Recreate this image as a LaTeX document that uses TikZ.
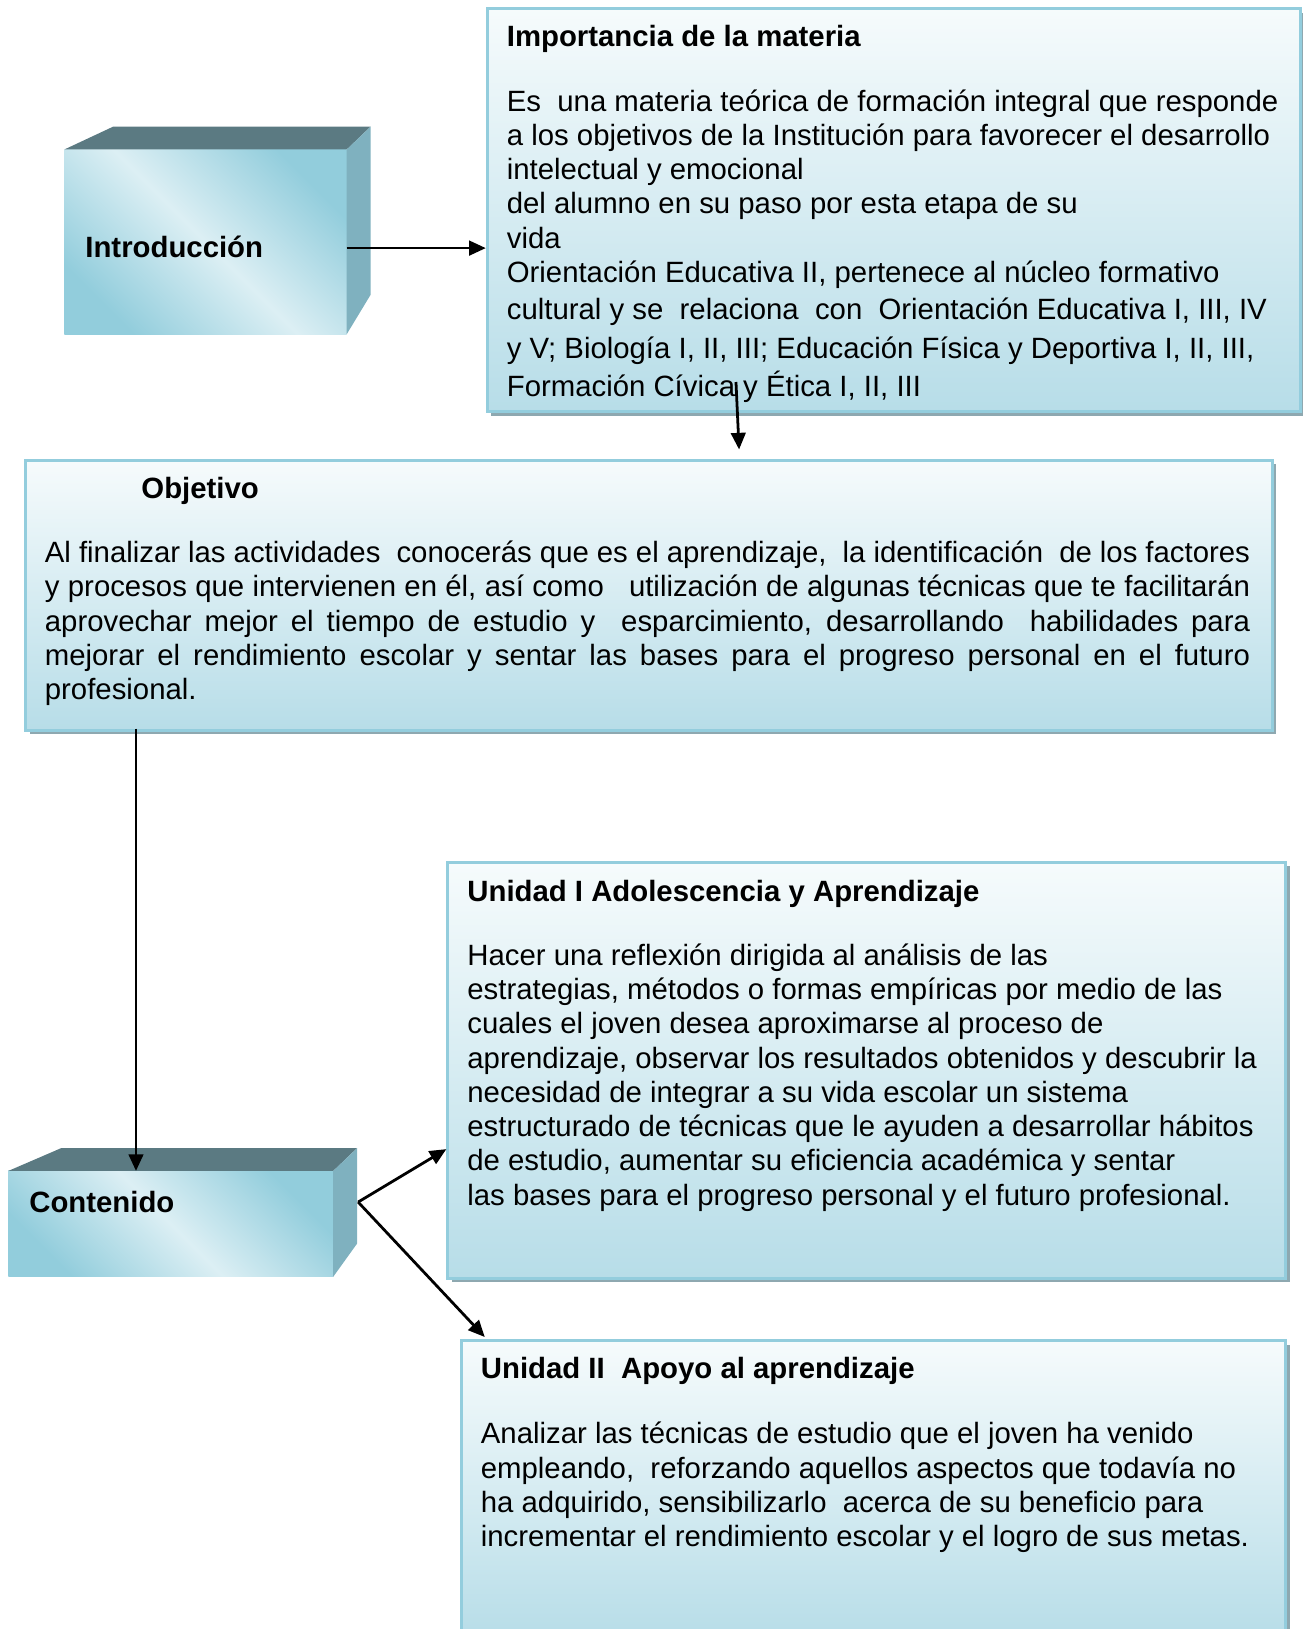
\documentclass[tikz,border=0pt]{standalone}
\usepackage{fontspec}
\setmainfont{Liberation Sans}
\usetikzlibrary{arrows.meta,shadows}
\newlength\px \setlength\px{0.75pt}
\definecolor{bordc}{HTML}{93CDDD}
\definecolor{topc}{HTML}{F6FBFC}
\definecolor{botc}{HTML}{B7DDE8}
\definecolor{shadc}{HTML}{8EA8B0}
\definecolor{cubeblue}{HTML}{92CDDC}
\definecolor{cubelight}{HTML}{DCEFF4}
\definecolor{cubetop}{HTML}{5B7A82}
\definecolor{cubeside}{HTML}{7FB1BF}
\tikzset{
 infobox/.style={draw=bordc, line width=2.2pt, rectangle, inner sep=0pt, anchor=north west,
   top color=topc, bottom color=botc,
   drop shadow={shadow xshift=3pt, shadow yshift=-3pt, fill=shadc, opacity=1}},
 conn/.style={line width=2pt, -{Triangle[length=12pt,width=10.5pt]}},
 body/.style={anchor=base west, inner sep=0pt, font=\fontsize{21.2}{24.75}\selectfont},
 ttl/.style={anchor=base west, inner sep=0pt, font=\fontsize{21.2}{24.75}\selectfont\bfseries},
 cubefront/.style={top color=cubeblue, bottom color=cubeblue, middle color=cubelight, shading angle=-45},
}
\begin{document}
\begin{tikzpicture}[x=0.75pt,y=-0.75pt]
\useasboundingbox (0,0) rectangle (1254.4,1569.3);
% --- 3D box: Introduccion
\shade[cubefront] (62,144) rectangle (334,322);
\fill[cubetop] (62,144) -- (109,122) -- (357,122) -- (334,144) -- cycle;
\fill[cubeside] (334,144) -- (357,122) -- (357,284) -- (334,322) -- cycle;
\node[ttl] (intro) at (82,248) {Introducción};
% --- 3D box: Contenido
\shade[cubefront] (8,1128) rectangle (321,1230);
\fill[cubetop] (8,1128) -- (59,1106) -- (344,1106) -- (321,1128) -- cycle;
\fill[cubeside] (321,1128) -- (344,1106) -- (344,1198) -- (321,1230) -- cycle;
\node[ttl] (cont) at (28,1168) {Contenido};
% --- boxes
\node[infobox, minimum width=783\px, minimum height=388\px] (imp) at (468,7) {};
\node[infobox, minimum width=1201\px, minimum height=260\px] (obj) at (23,442) {};
\node[infobox, minimum width=807\px, minimum height=401\px] (u1) at (430,829) {};
\node[infobox, minimum width=794\px, minimum height=287\px] (u2) at (443,1290) {};
% --- texts
\node[ttl] (impt) at (488,45) {Importancia de la materia};
\node[body] (impb) at (488,107) {\parbox[t]{770\px}{Es\ \ una materia teórica de formación integral que responde\\
a los objetivos de la Institución para favorecer el desarrollo\\
intelectual y emocional\\
del alumno en su paso por esta etapa de su\\
vida\\
Orientación Educativa II, pertenece al núcleo formativo\\[2.25pt]
cultural y se\ \ relaciona\ \ con\ \ Orientación Educativa I, III, IV\\[3pt]
y V; Biología I, II, III; Educación Física y Deportiva I, II, III,\\[3pt]
Formación Cívica y Ética I, II, III}};
\node[ttl] (objt) at (136,480) {Objetivo};
\node[body] (objb) at (43,542) {\parbox[t]{1161\px}{%
\makebox[\linewidth][s]{Al finalizar las actividades\ \ conocerás que es el aprendizaje,\ \ la identificación\ \ de los factores}\\
\makebox[\linewidth][s]{y procesos que intervienen en él, así como\ \ \ utilización de algunas técnicas que te facilitarán}\\
\makebox[\linewidth][s]{aprovechar mejor el tiempo de estudio y\ \ esparcimiento, desarrollando\ \ habilidades para}\\
\makebox[\linewidth][s]{mejorar el rendimiento escolar y sentar las bases para el progreso personal en el futuro}\\
profesional.}};
\node[ttl] (u1t) at (450,868) {Unidad I Adolescencia y Aprendizaje};
\node[body] (u1b) at (450,930) {\parbox[t]{780\px}{Hacer una reflexión dirigida al análisis de las\\
estrategias, métodos o formas empíricas por medio de las\\
cuales el joven desea aproximarse al proceso de\\
aprendizaje, observar los resultados obtenidos y descubrir la\\
necesidad de integrar a su vida escolar un sistema\\
estructurado de técnicas que le ayuden a desarrollar hábitos\\
de estudio, aumentar su eficiencia académica y sentar\\
las bases para el progreso personal y el futuro profesional.}};
\node[ttl] (u2t) at (463,1328) {Unidad II\ \ Apoyo al aprendizaje};
\node[body] (u2b) at (463,1391) {\parbox[t]{770\px}{Analizar las técnicas de estudio que el joven ha venido\\
empleando,\ \ reforzando aquellos aspectos que todavía no\\
ha adquirido, sensibilizarlo\ \ acerca de su beneficio para\\
incrementar el rendimiento escolar y el logro de sus metas.}};
% --- connectors
\coordinate (introR) at (334,239);
\coordinate (impS) at (709,368);
\coordinate (objN) at (712,433);
\coordinate (objS) at (131,702);
\coordinate (contN) at (131,1128);
\coordinate (contR) at (345,1158);
\coordinate (u1W) at (430,1107);
\coordinate (u2N) at (467,1288);
\draw[conn] (introR) -- (introR -| imp.west);
\draw[conn] (impS) -- (objN);
\draw[conn] (objS) -- (contN);
\draw[conn] (contR) -- (u1W);
\draw[conn] (contR) -- (u2N);
\end{tikzpicture}
\end{document}
